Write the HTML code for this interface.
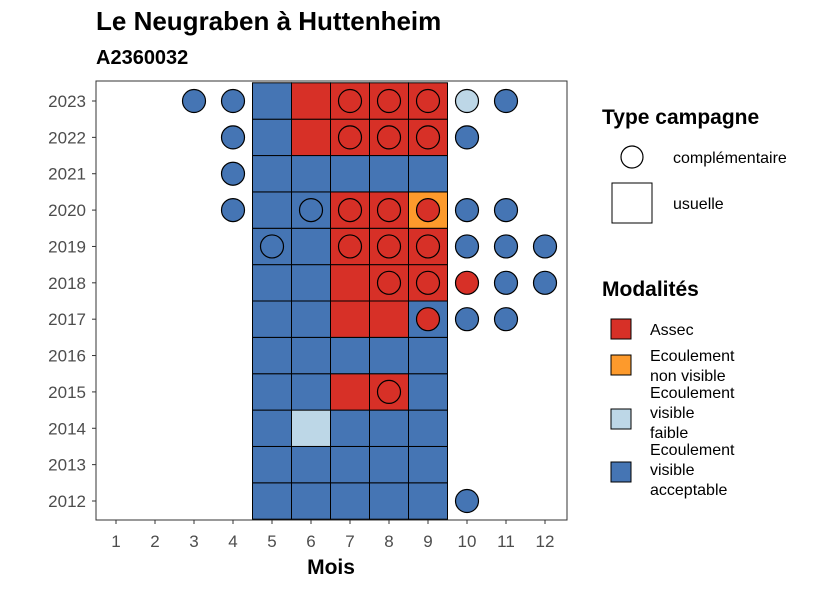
<!DOCTYPE html>
<html><head><meta charset="utf-8"><style>
body{margin:0;background:#fff;font-family:"Liberation Sans",sans-serif}
</style></head><body>
<svg id="c" width="826" height="590" xmlns="http://www.w3.org/2000/svg" font-family="Liberation Sans, sans-serif">
<text x="96" y="30" font-size="26" font-weight="bold">Le Neugraben à Huttenheim</text>
<text x="96" y="64" font-size="20" font-weight="bold">A2360032</text>
<g id="plot"></g>
<text x="331" y="574" font-size="21" font-weight="bold" text-anchor="middle">Mois</text>
<g>
<text x="602" y="124" font-size="21" font-weight="bold">Type campagne</text>
<circle cx="632" cy="157" r="11" fill="#fff" stroke="#000" stroke-width="1.2"/>
<text x="673" y="163" font-size="16">complémentaire</text>
<rect x="612" y="183" width="40" height="40" fill="#fff" stroke="#000"/>
<text x="673" y="209" font-size="16">usuelle</text>
</g>
<g>
<text x="602" y="296" font-size="21" font-weight="bold">Modalités</text>
<rect x="611" y="319" width="20" height="20" fill="#d73027" stroke="#000"/>
<text x="650" y="335" font-size="16">Assec</text>
<rect x="611" y="355" width="20" height="20" fill="#fd9a2c" stroke="#000"/>
<text x="650" y="361" font-size="16">Ecoulement</text><text x="650" y="381" font-size="16">non visible</text>
<rect x="611" y="409" width="20" height="20" fill="#bdd7e7" stroke="#000"/>
<text x="650" y="398" font-size="16">Ecoulement</text><text x="650" y="418" font-size="16">visible</text><text x="650" y="438" font-size="16">faible</text>
<rect x="611" y="462" width="20" height="20" fill="#4575b4" stroke="#000"/>
<text x="650" y="455" font-size="16">Ecoulement</text><text x="650" y="475" font-size="16">visible</text><text x="650" y="495" font-size="16">acceptable</text>
</g>
</svg>
<script>
const months=[1,2,3,4,5,6,7,8,9,10,11,12];
const years=[2012,2013,2014,2015,2016,2017,2018,2019,2020,2021,2022,2023];
const colors={B:"#4575b4",R:"#d73027",O:"#fd9a2c",L:"#bdd7e7"};
const tileMonths=[5,6,7,8,9];
const tiles={2023:"BRRRR",2022:"BRRRR",2021:"BBBBB",2020:"BBRRO",2019:"BBRRR",2018:"BBRRR",2017:"BBRRB",2016:"BBBBB",2015:"BBRRB",2014:"BLBBB",2013:"BBBBB",2012:"BBBBB"};
const comps=[[2023,3,"B"],[2023,4,"B"],[2023,7,"R"],[2023,8,"R"],[2023,9,"R"],[2023,10,"L"],[2023,11,"B"],
[2022,4,"B"],[2022,7,"R"],[2022,8,"R"],[2022,9,"R"],[2022,10,"B"],[2021,4,"B"],
[2020,4,"B"],[2020,6,"B"],[2020,7,"R"],[2020,8,"R"],[2020,9,"R"],[2020,10,"B"],[2020,11,"B"],
[2019,5,"B"],[2019,7,"R"],[2019,8,"R"],[2019,9,"R"],[2019,10,"B"],[2019,11,"B"],[2019,12,"B"],
[2018,8,"R"],[2018,9,"R"],[2018,10,"R"],[2018,11,"B"],[2018,12,"B"],
[2017,9,"R"],[2017,10,"B"],[2017,11,"B"],[2015,8,"R"],[2012,10,"B"]];
const NS="http://www.w3.org/2000/svg";
const g=document.getElementById("plot");
const X=m=>116+(m-1)*39, dx=39;
const Y=y=>501-(y-2012)*(400/11), dy=400/11;
function mk(t,a){const e=document.createElementNS(NS,t);for(const k in a)e.setAttribute(k,a[k]);g.appendChild(e);return e;}
const panel=mk("rect",{x:96,y:81,width:471,height:439,fill:"#fff",stroke:"#333","stroke-width":1});


years.forEach(y=>{tileMonths.forEach((m,i)=>{
 const r=mk("rect",{x:X(m)-dx/2,y:Y(y)-dy/2,width:dx,height:dy,fill:colors[tiles[y][i]],stroke:"#000","stroke-width":1});
 
 
});});
comps.forEach(([y,m,s])=>{
 const c=mk("circle",{cx:X(m),cy:Y(y),r:11.5,fill:colors[s],stroke:"#000","stroke-width":1.2});
 
 
});
years.forEach(y=>{
 mk("line",{x1:92,x2:96,y1:Y(y),y2:Y(y),stroke:"#333"});
 const t=mk("text",{x:86,y:Y(y)+6,"font-size":17,"text-anchor":"end",fill:"#4d4d4d"});t.textContent=y;
 
 
});
months.forEach(m=>{
 mk("line",{x1:X(m),x2:X(m),y1:520,y2:524,stroke:"#333"});
 const t=mk("text",{x:X(m),y:547,"font-size":17,"text-anchor":"middle",fill:"#4d4d4d"});t.textContent=m;
 
 
});
</script>
</body></html>
